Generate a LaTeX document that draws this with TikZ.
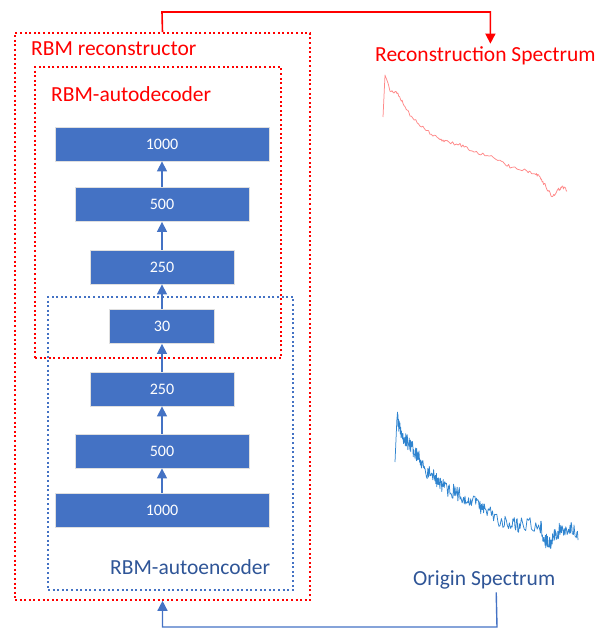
\documentclass[tikz,border=0pt]{standalone}
\usepackage{fontspec}
\setmainfont{Carlito}
\usetikzlibrary{arrows.meta}
\definecolor{boxblue}{HTML}{4472C4}
\definecolor{textblue}{HTML}{2F5597}
\definecolor{redline}{HTML}{FF0000}
\definecolor{specblue}{HTML}{2F84CF}
\definecolor{specred}{HTML}{FF6B6B}
\tikzset{
  layer/.style={draw=gray!25, line width=0.8pt, fill=boxblue, text=white,
    font=\fontsize{16}{19}\selectfont, minimum height=34, inner sep=0},
  redframe/.style={draw=redline, line width=1.6pt, dash pattern=on 2pt off 2.6pt, inner sep=0},
  blueframe/.style={draw=boxblue, line width=1.5pt, dash pattern=on 2pt off 2.6pt, inner sep=0},
  uparrow/.style={draw=boxblue, line width=1.4pt, -{Triangle[width=10,length=10]}},
  redlabel/.style={text=redline, font=\fontsize{21.5}{25}\selectfont, anchor=west, inner sep=0},
  bluelabel/.style={text=textblue, font=\fontsize{21.5}{25}\selectfont, anchor=west, inner sep=0},
  redlink/.style={draw=redline, line width=1.6pt, -{Triangle[width=10,length=10]}},
  bluelink/.style={draw=boxblue, line width=1.4pt, -{Triangle[width=10,length=10]}},
}
\begin{document}
\begin{tikzpicture}[x=1pt,y=-1pt]
\useasboundingbox (0,0) rectangle (607,628);

% grouping frames
\node[redframe, minimum width=295, minimum height=567] (recon) at (162.5,316.5) {};
\node[redframe, minimum width=246, minimum height=291] (dec) at (158,212.5) {};
\node[blueframe, minimum width=245, minimum height=293] (enc) at (170.5,443.5) {};

% frame titles
\node[redlabel] (recontitle) at (31,49) {RBM reconstructor};
\node[redlabel] (dectitle) at (51,94) {RBM-autodecoder};
\node[bluelabel] (enctitle) at (110,567) {RBM-autoencoder};

% layers of the network
\node[layer, minimum width=214] (e1000) at (162,510) {1000};
\node[layer, minimum width=174] (e500) at (162,451) {500};
\node[layer, minimum width=144] (e250) at (162,389) {250};
\node[layer, minimum width=105] (mid) at (162,326.5) {30};
\node[layer, minimum width=144] (d250) at (162,267) {250};
\node[layer, minimum width=174] (d500) at (162,204.5) {500};
\node[layer, minimum width=214] (d1000) at (162,144) {1000};

\draw[uparrow] (e1000.north) -- (e500.south);
\draw[uparrow] (e500.north) -- (e250.south);
\draw[uparrow] (e250.north) -- (mid.south);
\draw[uparrow] (mid.north) -- (d250.south);
\draw[uparrow] (d250.north) -- (d500.south);
\draw[uparrow] (d500.north) -- (d1000.south);

% spectrum labels
\node[redlabel] (rectitle) at (375,56) {Reconstruction Spectrum};
\node[bluelabel] (origtitle) at (413,580) {Origin Spectrum};

% connectors
\coordinate (topturn) at (162,12);
\draw[redlink] (recon.north) -- (topturn) -| ([xshift=5pt,yshift=3pt]rectitle.north);
\coordinate (botturn) at (497,627);
\draw[bluelink] ([xshift=12pt,yshift=-3pt]origtitle.south) -- (botturn) -| (recon.south);

% reconstructed spectrum
\pgfmathsetseed{11}
\draw[specred, line width=0.75pt, opacity=0.8, line join=round]
  (383,117) -- (385,75)
  \foreach \xa/\ya/\xb/\yb in {385/75/390/90, 390/90/397/93, 397/93/403/103,
      403/103/410/115, 410/115/420/125, 420/125/430/133, 430/133/440/140,
      440/140/447/142, 447/142/460/145, 460/145/470/150, 470/150/485/155,
      485/155/500/160, 500/160/510/167, 510/167/527/171, 527/171/535/173,
      535/173/540/178, 540/178/545/185, 545/185/552/197, 552/197/558/190,
      558/190/562/187, 562/187/567/190}
  { \foreach \k in {1,...,7} { -- ({\xa+(\xb-\xa)*\k/7}, {\ya+(\yb-\ya)*\k/7+1.6*rand}) } };

% original spectrum
\pgfmathsetseed{5}
\draw[specblue, line width=0.75pt, line join=round]
  (395,462) -- (397,417)
  \foreach \xa/\ya/\xb/\yb in {397/417/400/430, 400/430/405/440, 405/440/410/445,
      410/445/415/452, 415/452/420/460, 420/460/425/470, 425/470/435/478,
      435/478/440/482, 440/482/445/488, 445/488/455/492, 455/492/465/497,
      465/497/475/503, 475/503/485/510, 485/510/500/520, 500/520/510/525,
      510/525/520/525, 520/525/540/525, 540/525/545/540, 545/540/550/545,
      550/545/555/535, 555/535/560/530, 560/530/570/528, 570/528/578/535}
  { \foreach \k in {1,...,14} { -- ({\xa+(\xb-\xa)*\k/14}, {\ya+(\yb-\ya)*\k/14+7.5*rand}) } };
\end{tikzpicture}
\end{document}
